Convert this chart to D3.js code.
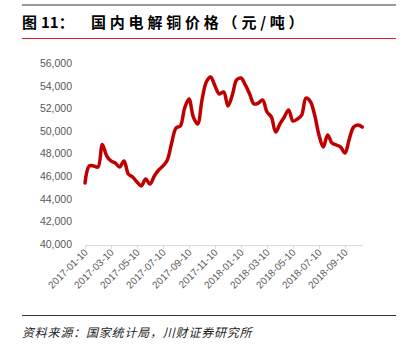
<!DOCTYPE html>
<html><head><meta charset="utf-8">
<script src="https://cdn.jsdelivr.net/npm/d3@7"></script>
<style>
html,body{margin:0;padding:0;background:#fff;}
svg{display:block;}
</style></head>
<body>
<svg id="chart" width="408" height="348"></svg>
<script>
const dates = [
"2017-01-10","2017-01-20","2017-01-31","2017-02-10","2017-02-20","2017-02-28",
"2017-03-10","2017-03-20","2017-03-31","2017-04-10","2017-04-20","2017-04-30",
"2017-05-10","2017-05-20","2017-05-31","2017-06-10","2017-06-20","2017-06-30",
"2017-07-10","2017-07-20","2017-07-31","2017-08-10","2017-08-20","2017-08-31",
"2017-09-10","2017-09-20","2017-09-30","2017-10-10","2017-10-20","2017-10-31",
"2017-11-10","2017-11-20","2017-11-30","2017-12-10","2017-12-20","2017-12-31",
"2018-01-10","2018-01-20","2018-01-31","2018-02-10","2018-02-20","2018-02-28",
"2018-03-10","2018-03-20","2018-03-31","2018-04-10","2018-04-20","2018-04-30",
"2018-05-10","2018-05-20","2018-05-31","2018-06-10","2018-06-20","2018-06-30",
"2018-07-10","2018-07-20","2018-07-31","2018-08-10","2018-08-20","2018-08-31",
"2018-09-10","2018-09-20","2018-09-30","2018-10-10","2018-10-20"
];
const prices = [
45400,46900,46900,46800,48800,47800,
47340,47160,46800,47340,46190,45920,
45480,45130,45750,45300,46010,46540,
46900,47430,48930,50250,50430,52020,
52820,51230,50610,52730,54320,54760,
53970,53260,53440,52200,53170,54500,
54670,54060,53260,52380,52460,52730,
51670,51230,49900,50610,51230,51850,
50870,51050,51400,52900,52600,51400,
49640,48570,49640,48930,48750,48570,
48040,49280,50340,50520,50340
];
const xTickLabels = ["2017-01-10","2017-03-10","2017-05-10","2017-07-10","2017-09-10","2017-11-10","2018-01-10","2018-03-10","2018-05-10","2018-07-10","2018-09-10"];
const yTicks = [40000,42000,44000,46000,48000,50000,52000,54000,56000];
const titleFig = "图";
const titleNum = "11：";
const titleText = "国内电解铜价格（元/吨）";
const sourceText = "资料来源：国家统计局，川财证券研究所";

const svg = d3.select("#chart");
const cjk = "'Noto Sans CJK SC','Noto Sans',sans-serif";

// header lines
svg.append("line").attr("x1",22).attr("x2",396).attr("y1",5).attr("y2",5)
  .attr("stroke","#999").attr("stroke-width",2);
svg.append("text").attr("x",22).attr("y",28).text(titleFig)
  .attr("font-family",cjk).attr("font-weight","bold").attr("font-size",15).attr("fill","#000");
svg.append("text").attr("x",41).attr("y",28).text(titleNum)
  .attr("font-family",cjk).attr("font-weight","bold").attr("font-size",15).attr("fill","#000");
svg.append("text").attr("x",91).attr("y",28).text(titleText)
  .attr("font-family",cjk).attr("font-weight","bold").attr("font-size",15)
  .attr("letter-spacing","3.8px").attr("fill","#000");
svg.append("line").attr("x1",22).attr("x2",396).attr("y1",38.5).attr("y2",38.5)
  .attr("stroke","#e02020").attr("stroke-width",1);

// scales
const x = d3.scalePoint().domain(dates).range([85, 362.3]);
const y = d3.scaleLinear().domain([40000,56000]).range([244,63]);

// y axis labels
const yAxis = d3.axisLeft(y).tickValues(yTicks).tickSize(0).tickPadding(0)
  .tickFormat(d3.format(","));
const gy = svg.append("g").attr("transform","translate(72,0)").call(yAxis);
gy.select(".domain").remove();
gy.selectAll("text").attr("font-family","'Liberation Sans',Arial,sans-serif")
  .attr("font-size",10.5).attr("fill","#595959");

// x axis
const tickDates = dates.filter(d => xTickLabels.includes(d));
const xAxis = d3.axisBottom(x).tickValues(tickDates).tickSize(4).tickSizeOuter(0);
const gx = svg.append("g").attr("transform","translate(0,245)").call(xAxis);
gx.select(".domain").attr("stroke","#d9d9d9").attr("d","M85,0.5H362.3");
gx.selectAll(".tick line").attr("stroke","#d9d9d9");
gx.selectAll(".tick text")
  .attr("font-family","'Liberation Sans',Arial,sans-serif").attr("font-size",10)
  .attr("fill","#595959").attr("text-anchor","end")
  .attr("dy",0).attr("y",0)
  .attr("transform","translate(3,8) rotate(-45)");

// line
const line = d3.line().x((d,i)=>x(dates[i])).y(d=>y(d)).curve(d3.curveCatmullRom.alpha(0.5));
svg.append("path").datum(prices).attr("d",line).attr("fill","none")
  .attr("stroke","#c00000").attr("stroke-width",3.5).attr("stroke-linejoin","round").attr("stroke-linecap","round");

// footer
svg.append("line").attr("x1",22).attr("x2",396).attr("y1",315.5).attr("y2",315.5)
  .attr("stroke","#333").attr("stroke-width",1.2);
svg.append("text").attr("x",22).attr("y",337).text(sourceText)
  .attr("font-family",cjk).attr("font-style","italic").attr("font-size",12)
  .attr("letter-spacing","0.8px").attr("fill","#222");
</script>
</body></html>
